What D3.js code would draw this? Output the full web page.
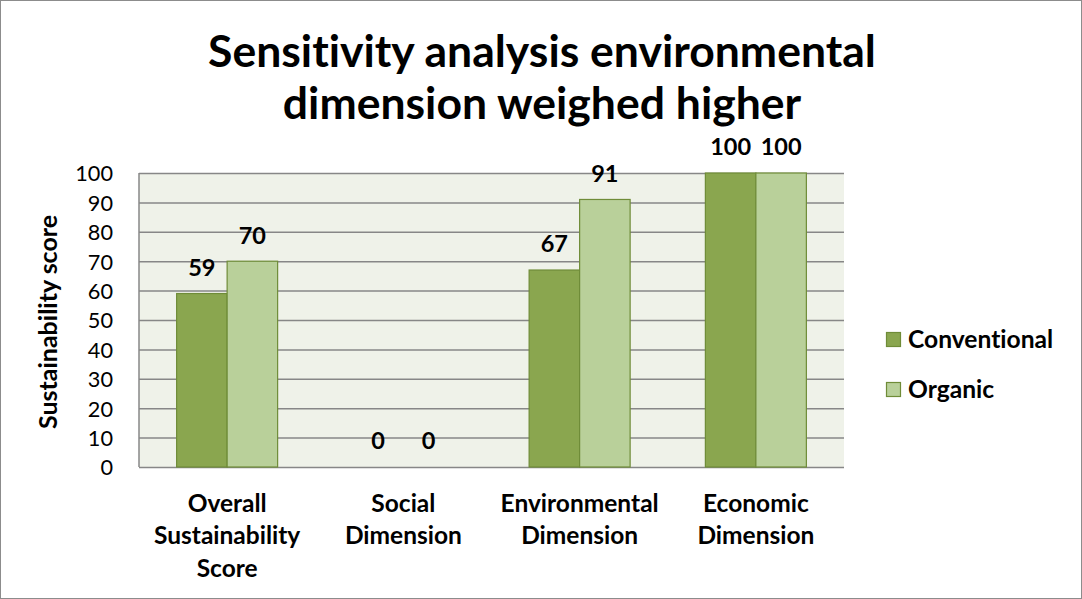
<!DOCTYPE html>
<html>
<head>
<meta charset="utf-8">
<script src="https://cdn.jsdelivr.net/npm/d3@7"></script>
<style>
  html, body { margin: 0; padding: 0; background: #fff; }
  svg { display: block; font-family: Lato, "Open Sans", sans-serif; font-variant-ligatures: none; }
</style>
</head>
<body>
<svg id="chart" width="1082" height="599"></svg>
<script>
// Chart data
const categories = [
  ["Overall", "Sustainability", "Score"],
  ["Social", "Dimension"],
  ["Environmental", "Dimension"],
  ["Economic", "Dimension"]
];
const seriesNames = ["Conventional", "Organic"];
const conventional = [59, 0, 67, 100];
const organic = [70, 0, 91, 100];
const yTicks = [0, 10, 20, 30, 40, 50, 60, 70, 80, 90, 100];
const titleLines = ["Sensitivity analysis environmental", "dimension weighed higher"];
const yLabel = "Sustainability score";

const fills = ["#8aa64f", "#b9d09a"];
const stroke = "#6f8c38";

const svg = d3.select("#chart");
const W = 1082, H = 599;

// outer frame
svg.append("rect").attr("x", 0.5).attr("y", 0.5).attr("width", W - 1).attr("height", H - 1)
  .attr("fill", "#fff").attr("stroke", "#8c8c8c").attr("stroke-width", 1);

const plot = { left: 139, right: 844, top: 173, bottom: 467 };

const x0 = d3.scaleBand().domain(d3.range(categories.length))
  .range([plot.left, plot.right]).paddingInner(0).paddingOuter(0);
const groupWidth = 101;
const x1 = d3.scaleBand().domain(d3.range(seriesNames.length)).range([0, groupWidth]);
const y = d3.scaleLinear().domain([0, 100]).range([plot.bottom, plot.top]);

// plot background
svg.append("rect").attr("x", plot.left).attr("y", plot.top)
  .attr("width", plot.right - plot.left).attr("height", plot.bottom - plot.top)
  .attr("fill", "#eff2e9");

// gridlines and tick labels
const yAxis = d3.axisLeft(y).tickValues(yTicks).tickSize(0).tickPadding(0);
const gy = svg.append("g").attr("transform", `translate(${plot.left},0)`).call(yAxis);
gy.select(".domain").remove();
gy.selectAll(".tick text").attr("x", -26).attr("dy", "0.36em")
  .attr("font-size", 21.7).attr("fill", "#000").attr("font-family", "Lato, sans-serif");
gy.selectAll(".tick").append("line")
  .attr("x1", 0).attr("x2", plot.right - plot.left)
  .attr("stroke", "#878787").attr("stroke-width", 1.5);

// left axis line
svg.append("line").attr("x1", plot.left).attr("x2", plot.left)
  .attr("y1", plot.top).attr("y2", plot.bottom).attr("stroke", "#878787").attr("stroke-width", 1.5);

// bars
const rows = categories.map((c, i) => [conventional[i], organic[i]]);
const groups = svg.append("g").selectAll("g").data(rows).join("g")
  .attr("transform", (d, i) => `translate(${x0(i) + (x0.bandwidth() - groupWidth) / 2},0)`);

groups.selectAll("rect").data(d => d).join("rect")
  .attr("x", (d, j) => x1(j))
  .attr("y", d => y(d))
  .attr("width", x1.bandwidth())
  .attr("height", d => y(0) - y(d))
  .attr("fill", (d, j) => fills[j])
  .attr("stroke", stroke).attr("stroke-width", 1.2)
  .attr("display", d => d > 0 ? null : "none");

// value labels
groups.selectAll("text").data(d => d).join("text")
  .attr("x", (d, j) => x1(j) + x1.bandwidth() / 2)
  .attr("y", d => y(d) - 26)
  .attr("dy", "0.36em")
  .attr("text-anchor", "middle")
  .attr("font-size", 23.5).attr("font-weight", "bold")
  .text(d => d);

// category labels
categories.forEach((lines, i) => {
  const cx = x0(i) + x0.bandwidth() / 2;
  const t = svg.append("text")
    .attr("text-anchor", "middle")
    .attr("font-size", 24.5).attr("font-weight", "bold");
  lines.forEach((ln, k) => {
    t.append("tspan").attr("x", cx)
      .attr("y", 503 + k * 32.5).attr("dy", "0.36em").text(ln);
  });
});

// y axis title
svg.append("text")
  .attr("transform", "translate(48,322) rotate(-90)")
  .attr("text-anchor", "middle").attr("dy", "0.36em")
  .attr("font-size", 25).attr("font-weight", "bold")
  .text(yLabel);

// chart title (baselines)
titleLines.forEach((ln, k) => {
  svg.append("text")
    .attr("x", 542).attr("y", 67 + k * 52)
    .attr("text-anchor", "middle")
    .attr("font-size", 44.5).attr("font-weight", "bold")
    .text(ln);
});

// legend
const legend = svg.append("g").selectAll("g").data(seriesNames).join("g")
  .attr("transform", (d, i) => `translate(886,${339.5 + i * 50})`);
legend.append("rect").attr("x", 0.5).attr("y", -7).attr("width", 14).attr("height", 14)
  .attr("fill", (d, i) => fills[i]).attr("stroke", stroke).attr("stroke-width", 1.2);
legend.append("text").attr("x", 22).attr("dy", "0.36em")
  .attr("font-size", 24.6).attr("font-weight", "bold").text(d => d);
</script>
</body>
</html>
